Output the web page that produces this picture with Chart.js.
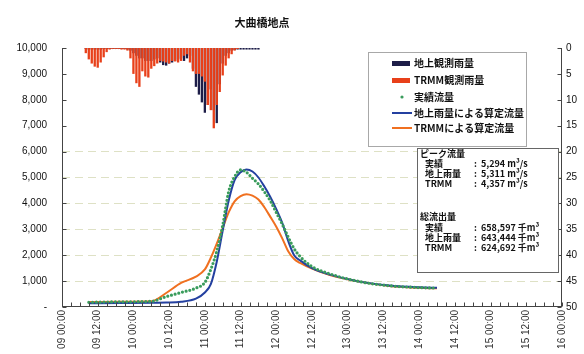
<!DOCTYPE html>
<html><head><meta charset="utf-8">
<script src="https://cdn.jsdelivr.net/npm/chart.js@4/dist/chart.umd.min.js"></script>
<style>html,body{margin:0;padding:0;background:#fff}canvas{display:block}</style>
</head><body>
<canvas id="c" width="584" height="354"></canvas>
<script>
// ---- data ----
const titleText = '大曲橋地点';
const xTickLabels = ['09 00:00','09 12:00','10 00:00','10 12:00','11 00:00','11 12:00','12 00:00','12 12:00','13 00:00','13 12:00','14 00:00','14 12:00','15 00:00','15 12:00','16 00:00'];
const seriesNames = ['地上観測雨量','TRMM観測雨量','実績流量','地上雨量による算定流量','TRMMによる算定流量'];
// hourly rainfall (mm/h) starting at hour 8 after 09 00:00
const rainStartHour = 8;
const groundRain = [0.2,0.3,0.3,0.3,0.3,0.3,0.2,0.2,0.2,0.2,0.2,0.2,0.2,0.2,0.3,
  0.5,1.0,1.5,2.0,2.0,2.5,2.5,2.5,2.2,
  2.0,2.8,3.3,3.4,3.0,2.8,2.5,2.2,2.0,2.5,2.0,1.5,
  4.0,7.5,9.0,10.5,12.5,11.0,8.0,12.0,14.5,7.0,3.0,1.5,1.0,0.5,0.4,
  0.3,0.3,0.3,0.3,0.3,0.3,0.3,0.3];
const trmmRain = [1.0,2.2,3.0,3.6,3.8,2.8,1.8,0.8,0.3,0.2,0.2,0.2,0.3,0.3,0.5,
  2.0,5.0,6.8,7.5,4.5,5.5,5.7,4.0,3.5,
  3.0,2.5,2.6,2.8,3.0,2.5,2.6,2.8,2.5,1.5,1.2,2.8,
  4.5,5.0,5.0,5.5,6.5,11.0,12.0,15.5,11.0,8.5,5.3,3.4,2.0,1.2,0.5,
  0.2,0,0,0,0,0,0,0];
// discharge (m3/s) at hours after 09 00:00
const flowHours    = [9,  20,  30,  35,  40,  45,  48,  50,  52,  54,  56,  58,  60,  62,  64,  66,  68,  70,  72,  74,  76,  78,  80,  84,  90,  100, 110, 120, 126];
const observedFlow = [180,200, 220, 400, 560, 730, 950, 1450,2150,3150,4450,5030,5294,5200,4970,4750,4450,4100,3650,3200,2700,2250,1950,1560,1280,980, 820, 750, 730];
const groundFlow   = [140,150, 160, 170, 200, 320, 560, 880, 1750,2950,4100,4900,5200,5311,5230,5000,4650,4250,3780,3250,2550,2000,1800,1500,1250,980, 830, 760, 740];
const trmmFlow     = [190,200, 220, 540, 930, 1170,1450,1900,2450,3050,3650,4080,4280,4357,4300,4150,3850,3480,3100,2650,2150,1850,1700,1480,1230,980, 810, 740, 720];
const peakTitle = 'ピーク流量';
const peakRows = [['実績','5,294 m³/s'],['地上雨量','5,311 m³/s'],['TRMM','4,357 m³/s']];
const volTitle = '総流出量';
const volRows = [['実績','658,597 千m³'],['地上雨量','643,444 千m³'],['TRMM','624,692 千m³']];

const colGround = '#1d1d48', colTrmm = '#e8401a', colObs = '#3a9c5c', colBlue = '#2440a0', colOrange = '#f07020';
const jp = '"Noto Sans CJK JP", sans-serif';

const pts = (hs, vs) => vs.map((v, i) => ({x: hs[i], y: v}));
const rainPts = vs => vs.map((v, i) => ({x: rainStartHour + i, y: v}));

const overlay = {
  id: 'overlay',
  afterDraw(chart) {
    const ctx = chart.ctx, sx = chart.scales.x, sy = chart.scales.y, sy2 = chart.scales.y2, a = chart.chartArea;
    ctx.save();
    ctx.setLineDash([]);
    // axis lines and inward tick marks
    ctx.strokeStyle = '#444'; ctx.lineWidth = 1;
    ctx.beginPath();
    const L = Math.round(a.left) + 0.5, R = Math.round(a.right) - 0.5, B = Math.round(a.bottom) - 0.5, T = Math.round(a.top);
    ctx.moveTo(L, T); ctx.lineTo(L, B + 0.5);
    ctx.moveTo(R, T); ctx.lineTo(R, B + 0.5);
    ctx.moveTo(L, B); ctx.lineTo(R, B);
    sx.ticks.forEach(t => { const p = Math.round(sx.getPixelForValue(t.value)) + 0.5; ctx.moveTo(p, B); ctx.lineTo(p, B - 4); });
    sy.ticks.forEach(t => { const p = Math.round(sy.getPixelForValue(t.value)) + 0.5; ctx.moveTo(L, p); ctx.lineTo(L + 4, p); });
    sy2.ticks.forEach(t => { const p = Math.round(sy2.getPixelForValue(t.value)) + 0.5; ctx.moveTo(R, p); ctx.lineTo(R - 4, p); });
    ctx.stroke();
    // title
    ctx.fillStyle = '#111';
    ctx.font = 'bold 11px ' + jp;
    ctx.textAlign = 'center'; ctx.textBaseline = 'middle';
    ctx.fillText(titleText, 262, 23);
    // legend box
    ctx.textAlign = 'left';
    ctx.fillStyle = '#fff';
    ctx.fillRect(368, 52, 158, 94);
    ctx.strokeStyle = '#a8a8a8';
    ctx.strokeRect(368.5, 52.5, 158, 94);
    ctx.fillStyle = colGround; ctx.fillRect(392, 61, 18, 5);
    ctx.fillStyle = colTrmm; ctx.fillRect(392, 78, 18, 5);
    ctx.fillStyle = colObs; ctx.beginPath(); ctx.arc(402, 97, 1.6, 0, Math.PI * 2); ctx.fill();
    ctx.lineWidth = 2;
    ctx.strokeStyle = colBlue; ctx.beginPath(); ctx.moveTo(392, 113); ctx.lineTo(412, 113); ctx.stroke();
    ctx.strokeStyle = colOrange; ctx.beginPath(); ctx.moveTo(392, 128); ctx.lineTo(412, 128); ctx.stroke();
    ctx.fillStyle = '#111';
    ctx.font = 'bold 10px ' + jp;
    const ly = [63, 80, 97, 113, 128];
    seriesNames.forEach((s, i) => ctx.fillText(s, 414, ly[i]));
    // peak / volume box
    ctx.fillStyle = '#fff';
    ctx.fillRect(417, 148, 141, 124);
    ctx.lineWidth = 1; ctx.strokeStyle = '#666';
    ctx.strokeRect(417.5, 148.5, 141, 124);
    ctx.fillStyle = '#111';
    ctx.font = 'bold 9px ' + jp;
    ctx.fillText(peakTitle, 420, 154);
    const pr = [164, 174, 184];
    peakRows.forEach((r, i) => { ctx.fillText(r[0], 425, pr[i]); ctx.fillText(':', 474, pr[i]); ctx.fillText(r[1], 481, pr[i]); });
    ctx.fillText(volTitle, 420, 217);
    const vr = [228, 238, 248];
    volRows.forEach((r, i) => { ctx.fillText(r[0], 425, vr[i]); ctx.fillText(':', 474, vr[i]); ctx.fillText(r[1], 481, vr[i]); });
    ctx.restore();
  }
};

Chart.defaults.font.family = '"Liberation Sans", Arial, sans-serif';
Chart.defaults.font.size = 10;
Chart.defaults.color = '#222';

new Chart(document.getElementById('c'), {
  data: {
    datasets: [
      {type: 'line', label: seriesNames[2], data: pts(flowHours, observedFlow), yAxisID: 'y', order: 0,
       borderColor: colObs, borderWidth: 3.2, borderDash: [0, 3.8], borderCapStyle: 'round', pointRadius: 0, cubicInterpolationMode: 'monotone'},
      {type: 'line', label: seriesNames[3], data: pts(flowHours, groundFlow), yAxisID: 'y', order: 1,
       borderColor: colBlue, borderWidth: 2, pointRadius: 0, cubicInterpolationMode: 'monotone'},
      {type: 'line', label: seriesNames[4], data: pts(flowHours, trmmFlow), yAxisID: 'y', order: 2,
       borderColor: colOrange, borderWidth: 2, pointRadius: 0, cubicInterpolationMode: 'monotone'},
      {type: 'bar', label: seriesNames[1], data: rainPts(trmmRain), yAxisID: 'y2', order: 3, grouped: false,
       backgroundColor: colTrmm, borderWidth: 0, categoryPercentage: 1, barPercentage: 0.78},
      {type: 'bar', label: seriesNames[0], data: rainPts(groundRain), yAxisID: 'y2', order: 4, grouped: false,
       backgroundColor: colGround, borderWidth: 0, categoryPercentage: 1, barPercentage: 0.78}
    ]
  },
  options: {
    responsive: false, animation: false, events: [],
    layout: {padding: {top: 48, left: 0, right: 0, bottom: 0}},
    plugins: {legend: {display: false}, tooltip: {enabled: false}, title: {display: false}},
    scales: {
      x: {type: 'linear', min: 0, max: 168, offset: false,
          afterFit: s => { s.height = 47; },
          grid: {display: true, drawOnChartArea: false, drawTicks: false, color: 'rgba(0,0,0,0)'},
          border: {display: false},
          ticks: {stepSize: 3, autoSkip: false, minRotation: 90, maxRotation: 90, padding: 3, color: '#333',
                  callback: v => (v % 12 === 0 ? xTickLabels[v / 12] : '')}},
      y: {type: 'linear', position: 'left', min: 0, max: 10000,
          afterFit: s => { s.width = 62; },
          grid: {drawTicks: false, color: c => (c.tick.value >= 1000 && c.tick.value <= 6000 ? 'rgba(190,195,140,0.5)' : 'rgba(0,0,0,0)')},
          border: {display: false, dash: [8, 5]},
          ticks: {stepSize: 1000, padding: 15, color: '#111',
                  callback: v => (v === 0 ? '-' : v.toLocaleString('en-US'))}},
      y2: {type: 'linear', position: 'right', min: 0, max: 50, reverse: true,
          afterFit: s => { s.width = 22; },
          grid: {display: false, drawTicks: false},
          border: {display: false},
          ticks: {stepSize: 5, padding: 4, color: '#111'}}
    }
  },
  plugins: [overlay]
});
</script>
</body></html>
